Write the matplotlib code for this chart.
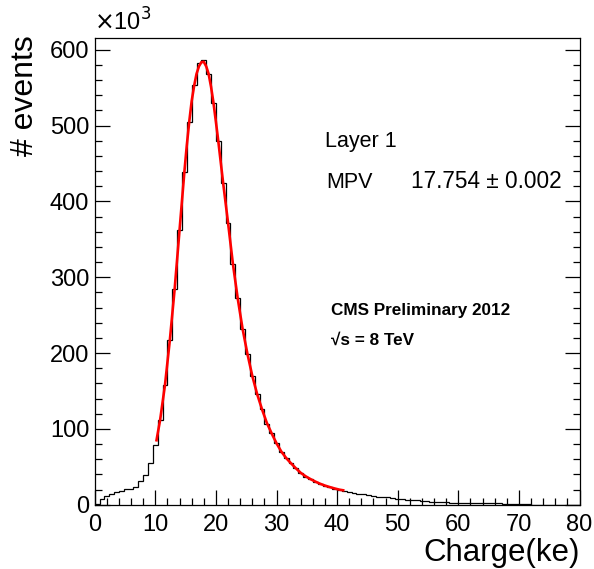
import matplotlib
matplotlib.use("Agg")
import matplotlib.pyplot as plt
import numpy as np

plt.rcParams["font.family"] = ["Liberation Sans", "DejaVu Sans"]

# histogram: 100 bins of 0.8 ke between 0 and 80, counts in units of 10^3
bin_edges = np.linspace(0, 80, 101)
counts = [
    1.5, 7.5, 11.5, 14, 16.3, 18, 20.3, 20.6, 23.4, 31,
    39.6, 55, 79, 112, 158, 217, 285, 362, 439, 505,
    554, 583, 586, 568, 530, 479, 424, 372, 318, 272,
    232, 199, 170, 146, 126, 107, 94, 81, 70, 61,
    54.6, 48, 41.4, 37, 33.5, 30.3, 27.3, 24.7, 23, 20.7,
    19.4, 18.5, 17, 16, 14.5, 13.5, 12.5, 11.5, 10.8, 10,
    9.5, 8.5, 7.5, 7, 6.5, 6, 5.6, 5.2, 4.7, 4.2,
    3.8, 3.4, 3.1, 2.9, 2.8, 2.6, 2.5, 2.4, 2.3, 2.2,
    2.1, 2.0, 1.9, 1.8, 0.5, 0.4, 0.4, 0.3, 0.3, 0.3,
    0.2, 0.2, 0.2, 0.2, 0.1, 0.1, 0.1, 0.1, 0.1, 0.1,
]

# fitted curve
fit_x = [10.2, 10.8, 11.6, 12.4, 13.2, 14.0, 14.8, 15.2, 15.6, 16.0,
         16.4, 16.8, 17.2, 17.6, 18.0, 18.4, 18.8, 19.2, 19.6, 20.0,
         20.4, 21.2, 22.0, 22.8, 23.6, 24.4, 25.2, 26.0, 26.8, 27.6,
         28.4, 29.2, 30.0, 30.8, 31.6, 32.4, 33.2, 34.0, 34.8, 35.6,
         36.4, 37.2, 38.0, 38.8, 39.6, 40.4, 41.0]
fit_y = [85, 112, 158, 217, 285, 362, 439, 474, 505, 532,
         552, 568, 578, 583.5, 584, 578, 568, 551, 530, 505,
         479, 424, 372, 318, 272, 232, 199, 170, 146, 126,
         108, 94, 81, 70, 61.5, 54.5, 48, 42, 37.5, 33.8,
         30.5, 27.6, 25.2, 23.2, 21.4, 19.8, 19]

W, H = 594, 569
fig = plt.figure(figsize=(W / 100, H / 100), dpi=100)
ax = fig.add_axes([94.7 / W, 1 - 504.7 / H, (579.5 - 94.7) / W, (504.7 - 38.3) / H])

ax.stairs(counts, bin_edges, color="black", linewidth=0.9, baseline=0)
ax.plot(fit_x, fit_y, color="red", linewidth=1.9)

ax.set_xlim(0, 80)
ax.set_ylim(0, 615)
ax.set_xticks(np.arange(0, 81, 10))
ax.set_xticks(np.arange(0, 81, 2), minor=True)
ax.set_yticks(np.arange(0, 601, 100))
ax.set_yticks(np.arange(0, 601, 20), minor=True)
ax.tick_params(which="both", direction="in", right=True, top=False, labelsize=17)
ax.tick_params(which="major", length=10.5, width=0.9)
ax.tick_params(which="minor", length=5, width=0.9)
ax.tick_params(axis="x", pad=7)
ax.tick_params(axis="y", pad=4)
for s in ax.spines.values():
    s.set_linewidth(0.9)

# axis titles in ROOT style
fig.text(580 / W, 1 - 553 / H, "Charge(ke)", fontsize=22.5, ha="right", va="center")
fig.text(25 / W, 1 - 35 / H, "# events", fontsize=23, rotation=90, ha="center", va="top")
fig.text(94 / W, 1 - 22 / H, r"$\times$10$^{3}$", fontsize=17, ha="left", va="center")

fig.text(325 / W, 1 - 142 / H, "Layer 1", fontsize=15.5, ha="left", va="center")
fig.text(326 / W, 1 - 182 / H, "MPV", fontsize=15.5, ha="left", va="center")
fig.text(562 / W, 1 - 182 / H, "17.754 \u00b1 0.002", fontsize=16.3, ha="right", va="center")
fig.text(331 / W, 1 - 310 / H, "CMS Preliminary 2012", fontsize=12.3, fontweight="bold",
         ha="left", va="center")
fig.text(331 / W, 1 - 340 / H, "\u221as = 8 TeV", fontsize=12.3, fontweight="bold",
         ha="left", va="center")

fig.savefig("out.png", dpi=100)
